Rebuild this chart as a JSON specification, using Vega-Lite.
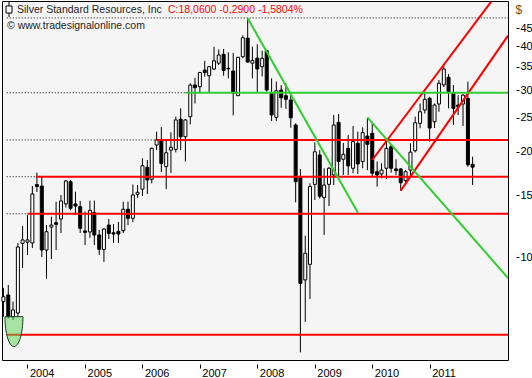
{
  "$schema": "https://vega.github.io/schema/vega-lite/v6.json",
  "width": 506,
  "height": 359,
  "autosize": {"type": "none"},
  "padding": {"left": 2, "top": 1, "right": 24, "bottom": 18},
  "background": "#ffffff",
  "config": {"view": {"fill": "#f5f5f5", "stroke": "#000000", "strokeWidth": 1}, "font": "Liberation Sans"},
  "datasets": {
    "candles": [
      {"date": "2003-08-01", "open": 7.46, "high": 8.16, "low": 6.75, "close": 7.70},
      {"date": "2003-09-01", "open": 7.79, "high": 8.32, "low": 6.68, "close": 6.75},
      {"date": "2003-10-01", "open": 6.75, "high": 7.46, "low": 6.61, "close": 7.06},
      {"date": "2003-11-01", "open": 6.92, "high": 10.97, "low": 6.74, "close": 10.68},
      {"date": "2003-12-01", "open": 10.94, "high": 12.26, "low": 9.30, "close": 11.19},
      {"date": "2004-01-01", "open": 11.03, "high": 13.18, "low": 10.13, "close": 11.19},
      {"date": "2004-02-01", "open": 10.97, "high": 15.95, "low": 10.61, "close": 15.14},
      {"date": "2004-03-01", "open": 16.11, "high": 17.42, "low": 15.34, "close": 15.90},
      {"date": "2004-04-01", "open": 15.95, "high": 16.93, "low": 10.00, "close": 10.47},
      {"date": "2004-05-01", "open": 10.47, "high": 12.34, "low": 8.66, "close": 11.81},
      {"date": "2004-06-01", "open": 12.18, "high": 13.04, "low": 9.87, "close": 12.34},
      {"date": "2004-07-01", "open": 12.53, "high": 14.39, "low": 10.47, "close": 12.40},
      {"date": "2004-08-01", "open": 12.84, "high": 15.04, "low": 11.71, "close": 14.46},
      {"date": "2004-09-01", "open": 14.18, "high": 16.60, "low": 13.84, "close": 16.49},
      {"date": "2004-10-01", "open": 16.41, "high": 16.60, "low": 13.60, "close": 13.78},
      {"date": "2004-11-01", "open": 14.18, "high": 15.37, "low": 13.18, "close": 13.99},
      {"date": "2004-12-01", "open": 13.93, "high": 14.46, "low": 11.71, "close": 12.08},
      {"date": "2005-01-01", "open": 11.87, "high": 13.50, "low": 10.82, "close": 11.76},
      {"date": "2005-02-01", "open": 11.79, "high": 14.49, "low": 11.34, "close": 13.59},
      {"date": "2005-03-01", "open": 13.39, "high": 14.49, "low": 10.82, "close": 11.56},
      {"date": "2005-04-01", "open": 11.56, "high": 11.95, "low": 10.13, "close": 10.52},
      {"date": "2005-05-01", "open": 10.51, "high": 12.10, "low": 9.68, "close": 12.02},
      {"date": "2005-06-01", "open": 12.34, "high": 12.84, "low": 11.26, "close": 11.68},
      {"date": "2005-07-01", "open": 11.73, "high": 12.42, "low": 10.98, "close": 11.63},
      {"date": "2005-08-01", "open": 11.84, "high": 12.60, "low": 10.97, "close": 11.63},
      {"date": "2005-09-01", "open": 11.89, "high": 14.39, "low": 11.71, "close": 13.69},
      {"date": "2005-10-01", "open": 13.69, "high": 14.39, "low": 12.34, "close": 12.90},
      {"date": "2005-11-01", "open": 12.90, "high": 16.11, "low": 12.58, "close": 15.04},
      {"date": "2005-12-01", "open": 15.11, "high": 16.06, "low": 14.75, "close": 15.31},
      {"date": "2006-01-01", "open": 15.63, "high": 19.15, "low": 14.94, "close": 18.23},
      {"date": "2006-02-01", "open": 18.04, "high": 18.93, "low": 15.14, "close": 16.60},
      {"date": "2006-03-01", "open": 16.68, "high": 20.55, "low": 16.24, "close": 20.44},
      {"date": "2006-04-01", "open": 20.89, "high": 22.81, "low": 20.20, "close": 21.60},
      {"date": "2006-05-01", "open": 21.60, "high": 23.50, "low": 17.50, "close": 18.50},
      {"date": "2006-06-01", "open": 18.13, "high": 21.60, "low": 15.63, "close": 19.85},
      {"date": "2006-07-01", "open": 20.20, "high": 22.72, "low": 17.38, "close": 20.58},
      {"date": "2006-08-01", "open": 20.30, "high": 25.17, "low": 19.90, "close": 24.64},
      {"date": "2006-09-01", "open": 24.76, "high": 26.60, "low": 20.20, "close": 22.06},
      {"date": "2006-10-01", "open": 22.06, "high": 24.80, "low": 18.74, "close": 24.64},
      {"date": "2006-11-01", "open": 25.17, "high": 31.36, "low": 23.94, "close": 31.00},
      {"date": "2006-12-01", "open": 31.00, "high": 32.53, "low": 27.46, "close": 30.46},
      {"date": "2007-01-01", "open": 30.66, "high": 33.80, "low": 29.37, "close": 33.67},
      {"date": "2007-02-01", "open": 34.20, "high": 36.35, "low": 32.75, "close": 33.67},
      {"date": "2007-03-01", "open": 32.96, "high": 35.10, "low": 29.56, "close": 34.97},
      {"date": "2007-04-01", "open": 34.44, "high": 39.89, "low": 34.20, "close": 36.35},
      {"date": "2007-05-01", "open": 35.80, "high": 39.20, "low": 35.36, "close": 37.77},
      {"date": "2007-06-01", "open": 37.94, "high": 39.30, "low": 32.96, "close": 34.10},
      {"date": "2007-07-01", "open": 34.60, "high": 38.45, "low": 32.40, "close": 34.50},
      {"date": "2007-08-01", "open": 34.00, "high": 38.30, "low": 25.40, "close": 29.37},
      {"date": "2007-09-01", "open": 28.90, "high": 37.30, "low": 28.90, "close": 37.20},
      {"date": "2007-10-01", "open": 37.35, "high": 43.00, "low": 37.00, "close": 42.30},
      {"date": "2007-11-01", "open": 42.20, "high": 48.10, "low": 36.00, "close": 36.05},
      {"date": "2007-12-01", "open": 35.80, "high": 39.89, "low": 32.40, "close": 36.46},
      {"date": "2008-01-01", "open": 37.00, "high": 40.53, "low": 29.60, "close": 34.44},
      {"date": "2008-02-01", "open": 34.97, "high": 38.86, "low": 32.80, "close": 36.95},
      {"date": "2008-03-01", "open": 38.86, "high": 39.00, "low": 29.70, "close": 30.00},
      {"date": "2008-04-01", "open": 29.37, "high": 32.40, "low": 24.47, "close": 25.46},
      {"date": "2008-05-01", "open": 25.07, "high": 31.70, "low": 24.47, "close": 29.85},
      {"date": "2008-06-01", "open": 30.00, "high": 31.00, "low": 26.70, "close": 28.50},
      {"date": "2008-07-01", "open": 28.90, "high": 31.36, "low": 26.50, "close": 28.23},
      {"date": "2008-08-01", "open": 28.10, "high": 29.00, "low": 23.40, "close": 25.00},
      {"date": "2008-09-01", "open": 23.83, "high": 24.10, "low": 14.33, "close": 16.41},
      {"date": "2008-10-01", "open": 16.96, "high": 17.85, "low": 5.34, "close": 8.41},
      {"date": "2008-11-01", "open": 8.60, "high": 11.50, "low": 6.53, "close": 10.25},
      {"date": "2008-12-01", "open": 9.53, "high": 16.24, "low": 7.59, "close": 15.90},
      {"date": "2009-01-01", "open": 16.13, "high": 21.27, "low": 14.55, "close": 19.98},
      {"date": "2009-02-01", "open": 19.57, "high": 20.20, "low": 14.70, "close": 14.91},
      {"date": "2009-03-01", "open": 14.78, "high": 17.93, "low": 11.56, "close": 16.06},
      {"date": "2009-04-01", "open": 16.13, "high": 18.10, "low": 13.98, "close": 17.93},
      {"date": "2009-05-01", "open": 17.15, "high": 25.46, "low": 16.06, "close": 23.83},
      {"date": "2009-06-01", "open": 24.25, "high": 25.60, "low": 17.04, "close": 18.74},
      {"date": "2009-07-01", "open": 19.02, "high": 21.18, "low": 17.15, "close": 19.66},
      {"date": "2009-08-01", "open": 20.44, "high": 22.30, "low": 17.15, "close": 18.21},
      {"date": "2009-09-01", "open": 17.93, "high": 23.67, "low": 17.35, "close": 21.36},
      {"date": "2009-10-01", "open": 21.13, "high": 22.81, "low": 17.27, "close": 18.45},
      {"date": "2009-11-01", "open": 18.74, "high": 23.48, "low": 17.93, "close": 22.66},
      {"date": "2009-12-01", "open": 22.16, "high": 24.92, "low": 17.72, "close": 20.99},
      {"date": "2010-01-01", "open": 22.57, "high": 24.10, "low": 16.93, "close": 17.35},
      {"date": "2010-02-01", "open": 17.53, "high": 18.74, "low": 15.88, "close": 17.15},
      {"date": "2010-03-01", "open": 17.27, "high": 18.53, "low": 16.79, "close": 17.72},
      {"date": "2010-04-01", "open": 17.93, "high": 21.36, "low": 16.71, "close": 20.44},
      {"date": "2010-05-01", "open": 20.66, "high": 20.89, "low": 17.42, "close": 17.93},
      {"date": "2010-06-01", "open": 17.85, "high": 19.02, "low": 17.15, "close": 17.65},
      {"date": "2010-07-01", "open": 17.85, "high": 17.95, "low": 15.47, "close": 16.30},
      {"date": "2010-08-01", "open": 16.53, "high": 17.72, "low": 16.30, "close": 17.53},
      {"date": "2010-09-01", "open": 17.72, "high": 21.13, "low": 16.96, "close": 19.94},
      {"date": "2010-10-01", "open": 20.12, "high": 25.17, "low": 19.90, "close": 24.19},
      {"date": "2010-11-01", "open": 24.10, "high": 27.46, "low": 23.33, "close": 26.00},
      {"date": "2010-12-01", "open": 26.30, "high": 29.37, "low": 25.70, "close": 28.23},
      {"date": "2011-01-01", "open": 28.40, "high": 28.70, "low": 21.36, "close": 23.36},
      {"date": "2011-02-01", "open": 24.35, "high": 27.46, "low": 23.36, "close": 27.18},
      {"date": "2011-03-01", "open": 27.36, "high": 32.03, "low": 26.00, "close": 31.36},
      {"date": "2011-04-01", "open": 31.00, "high": 35.36, "low": 30.60, "close": 34.44},
      {"date": "2011-05-01", "open": 32.62, "high": 33.30, "low": 26.60, "close": 29.66},
      {"date": "2011-06-01", "open": 29.37, "high": 31.00, "low": 23.83, "close": 26.60},
      {"date": "2011-07-01", "open": 27.18, "high": 29.00, "low": 25.46, "close": 26.88},
      {"date": "2011-08-01", "open": 27.36, "high": 29.20, "low": 23.67, "close": 29.00},
      {"date": "2011-09-01", "open": 28.40, "high": 31.70, "low": 18.10, "close": 18.35},
      {"date": "2011-10-01", "open": 18.40, "high": 19.35, "low": 16.06, "close": 18.06}
    ],
    "redLines": [
      {"start": "2006-04-01", "end": "2012-05-13", "from": 21.6, "to": 21.6},
      {"start": "2004-02-26", "end": "2012-05-13", "from": 16.96, "to": 16.96},
      {"start": "2004-01-01", "end": "2012-05-13", "from": 13.29, "to": 13.29},
      {"start": "2003-08-22", "end": "2012-05-13", "from": 6.0, "to": 6.0},
      {"start": "2010-01-01", "end": "2012-01-26", "from": 18.93, "to": 53.6},
      {"start": "2010-07-01", "end": "2012-05-13", "from": 15.47, "to": 42.9}
    ],
    "greenLines": [
      {"start": "2006-10-01", "end": "2012-05-13", "from": 29.47, "to": 29.47},
      {"start": "2007-11-01", "end": "2009-10-02", "from": 48.1, "to": 13.39},
      {"start": "2009-12-01", "end": "2012-05-13", "from": 25.07, "to": 8.71}
    ],
    "dottedLines": [
      {"start": "2003-08-22", "end": "2006-04-01", "from": 21.6, "to": 21.6},
      {"start": "2003-08-22", "end": "2004-02-26", "from": 16.96, "to": 16.96},
      {"start": "2003-08-22", "end": "2004-01-01", "from": 13.29, "to": 13.29},
      {"start": "2003-08-22", "end": "2006-10-01", "from": 29.47, "to": 29.47},
      {"start": "2003-08-22", "end": "2012-05-13", "from": 48.2, "to": 48.2}
    ],
    "marker": [
      {"date": "2003-10-07", "value": 6.12}
    ]
  },
  "layer": [
    {
      "data": {"name": "candles"},
      "mark": {"type": "rule", "stroke": "#000000", "strokeWidth": 1},
      "encoding": {
        "x": {"field": "date", "type": "temporal",
          "scale": {"type": "utc", "padding": 0, "domain": [{"year": 2003, "month": 7, "date": 23, "utc": true}, {"year": 2012, "month": 5, "date": 13, "utc": true}]},
          "axis": {"orient": "bottom", "title": null, "values": [{"year": 2004, "month": 1, "date": 1, "utc": true}, {"year": 2005, "month": 1, "date": 1, "utc": true}, {"year": 2006, "month": 1, "date": 1, "utc": true}, {"year": 2007, "month": 1, "date": 1, "utc": true}, {"year": 2008, "month": 1, "date": 1, "utc": true}, {"year": 2009, "month": 1, "date": 1, "utc": true}, {"year": 2010, "month": 1, "date": 1, "utc": true}, {"year": 2011, "month": 1, "date": 1, "utc": true}], "format": "%Y", "formatType": "utc", "domain": false, "grid": false, "tickSize": 4, "tickColor": "#000000", "offset": 4, "labelAlign": "left", "labelBaseline": "alphabetic", "labelPadding": 8, "labelOffset": 2, "labelFont": "Liberation Sans", "labelFontSize": 11, "labelColor": "#000000", "labelOverlap": false, "labelFlush": false, "labelBound": false}},
        "y": {"field": "low", "type": "quantitative",
          "scale": {"type": "log", "padding": 0, "domain": [5.079, 53.88], "nice": false},
          "axis": {"orient": "right", "values": [10, 15, 20, 25, 30, 35, 40, 45], "format": "d", "title": "$", "titleAngle": 0, "titleAlign": "left", "titleBaseline": "middle", "titleX": -1, "titleY": 8, "titleFont": "Liberation Sans", "titleFontSize": 12, "titleFontWeight": "normal", "titleColor": "#7a4a10", "domain": false, "grid": false, "tickSize": 3, "tickColor": "#000000", "offset": 8, "labelPadding": 1, "labelFont": "Liberation Sans", "labelFontSize": 11, "labelColor": "#000000", "labelAlign": "left", "labelBaseline": "middle", "labelOverlap": false, "labelBound": false, "labelFlush": false}},
        "y2": {"field": "high"}
      }
    },
    {
      "data": {"name": "candles"},
      "mark": {"type": "bar", "size": 3, "stroke": "#000000", "strokeWidth": 1, "orient": "vertical"},
      "encoding": {
        "x": {"field": "date", "type": "temporal",
          "scale": {"type": "utc", "padding": 0, "domain": [{"year": 2003, "month": 7, "date": 23, "utc": true}, {"year": 2012, "month": 5, "date": 13, "utc": true}]},
          "axis": {"orient": "bottom", "title": null, "values": [{"year": 2004, "month": 1, "date": 1, "utc": true}, {"year": 2005, "month": 1, "date": 1, "utc": true}, {"year": 2006, "month": 1, "date": 1, "utc": true}, {"year": 2007, "month": 1, "date": 1, "utc": true}, {"year": 2008, "month": 1, "date": 1, "utc": true}, {"year": 2009, "month": 1, "date": 1, "utc": true}, {"year": 2010, "month": 1, "date": 1, "utc": true}, {"year": 2011, "month": 1, "date": 1, "utc": true}], "format": "%Y", "formatType": "utc", "domain": false, "grid": false, "tickSize": 4, "tickColor": "#000000", "offset": 4, "labelAlign": "left", "labelBaseline": "alphabetic", "labelPadding": 8, "labelOffset": 2, "labelFont": "Liberation Sans", "labelFontSize": 11, "labelColor": "#000000", "labelOverlap": false, "labelFlush": false, "labelBound": false}},
        "y": {"field": "open", "type": "quantitative",
          "scale": {"type": "log", "padding": 0, "domain": [5.079, 53.88], "nice": false},
          "axis": {"orient": "right", "values": [10, 15, 20, 25, 30, 35, 40, 45], "format": "d", "title": "$", "titleAngle": 0, "titleAlign": "left", "titleBaseline": "middle", "titleX": -1, "titleY": 8, "titleFont": "Liberation Sans", "titleFontSize": 12, "titleFontWeight": "normal", "titleColor": "#7a4a10", "domain": false, "grid": false, "tickSize": 3, "tickColor": "#000000", "offset": 8, "labelPadding": 1, "labelFont": "Liberation Sans", "labelFontSize": 11, "labelColor": "#000000", "labelAlign": "left", "labelBaseline": "middle", "labelOverlap": false, "labelBound": false, "labelFlush": false}},
        "y2": {"field": "close"},
        "fill": {"condition": {"test": "datum.close >= datum.open", "value": "#ffffff"}, "value": "#000000"}
      }
    },
    {
      "data": {"name": "dottedLines"},
      "mark": {"type": "rule", "stroke": "#000000", "strokeWidth": 1, "strokeDash": [1, 2]},
      "encoding": {
        "x": {"field": "start", "type": "temporal",
          "scale": {"type": "utc", "padding": 0, "domain": [{"year": 2003, "month": 7, "date": 23, "utc": true}, {"year": 2012, "month": 5, "date": 13, "utc": true}]},
          "axis": {"orient": "bottom", "title": null, "values": [{"year": 2004, "month": 1, "date": 1, "utc": true}, {"year": 2005, "month": 1, "date": 1, "utc": true}, {"year": 2006, "month": 1, "date": 1, "utc": true}, {"year": 2007, "month": 1, "date": 1, "utc": true}, {"year": 2008, "month": 1, "date": 1, "utc": true}, {"year": 2009, "month": 1, "date": 1, "utc": true}, {"year": 2010, "month": 1, "date": 1, "utc": true}, {"year": 2011, "month": 1, "date": 1, "utc": true}], "format": "%Y", "formatType": "utc", "domain": false, "grid": false, "tickSize": 4, "tickColor": "#000000", "offset": 4, "labelAlign": "left", "labelBaseline": "alphabetic", "labelPadding": 8, "labelOffset": 2, "labelFont": "Liberation Sans", "labelFontSize": 11, "labelColor": "#000000", "labelOverlap": false, "labelFlush": false, "labelBound": false}},
        "x2": {"field": "end"},
        "y": {"field": "from", "type": "quantitative",
          "scale": {"type": "log", "padding": 0, "domain": [5.079, 53.88], "nice": false},
          "axis": {"orient": "right", "values": [10, 15, 20, 25, 30, 35, 40, 45], "format": "d", "title": "$", "titleAngle": 0, "titleAlign": "left", "titleBaseline": "middle", "titleX": -1, "titleY": 8, "titleFont": "Liberation Sans", "titleFontSize": 12, "titleFontWeight": "normal", "titleColor": "#7a4a10", "domain": false, "grid": false, "tickSize": 3, "tickColor": "#000000", "offset": 8, "labelPadding": 1, "labelFont": "Liberation Sans", "labelFontSize": 11, "labelColor": "#000000", "labelAlign": "left", "labelBaseline": "middle", "labelOverlap": false, "labelBound": false, "labelFlush": false}},
        "y2": {"field": "to"}
      }
    },
    {
      "data": {"name": "redLines"},
      "mark": {"type": "rule", "stroke": "#ff0000", "strokeWidth": 2, "clip": true},
      "encoding": {
        "x": {"field": "start", "type": "temporal",
          "scale": {"type": "utc", "padding": 0, "domain": [{"year": 2003, "month": 7, "date": 23, "utc": true}, {"year": 2012, "month": 5, "date": 13, "utc": true}]},
          "axis": {"orient": "bottom", "title": null, "values": [{"year": 2004, "month": 1, "date": 1, "utc": true}, {"year": 2005, "month": 1, "date": 1, "utc": true}, {"year": 2006, "month": 1, "date": 1, "utc": true}, {"year": 2007, "month": 1, "date": 1, "utc": true}, {"year": 2008, "month": 1, "date": 1, "utc": true}, {"year": 2009, "month": 1, "date": 1, "utc": true}, {"year": 2010, "month": 1, "date": 1, "utc": true}, {"year": 2011, "month": 1, "date": 1, "utc": true}], "format": "%Y", "formatType": "utc", "domain": false, "grid": false, "tickSize": 4, "tickColor": "#000000", "offset": 4, "labelAlign": "left", "labelBaseline": "alphabetic", "labelPadding": 8, "labelOffset": 2, "labelFont": "Liberation Sans", "labelFontSize": 11, "labelColor": "#000000", "labelOverlap": false, "labelFlush": false, "labelBound": false}},
        "x2": {"field": "end"},
        "y": {"field": "from", "type": "quantitative",
          "scale": {"type": "log", "padding": 0, "domain": [5.079, 53.88], "nice": false},
          "axis": {"orient": "right", "values": [10, 15, 20, 25, 30, 35, 40, 45], "format": "d", "title": "$", "titleAngle": 0, "titleAlign": "left", "titleBaseline": "middle", "titleX": -1, "titleY": 8, "titleFont": "Liberation Sans", "titleFontSize": 12, "titleFontWeight": "normal", "titleColor": "#7a4a10", "domain": false, "grid": false, "tickSize": 3, "tickColor": "#000000", "offset": 8, "labelPadding": 1, "labelFont": "Liberation Sans", "labelFontSize": 11, "labelColor": "#000000", "labelAlign": "left", "labelBaseline": "middle", "labelOverlap": false, "labelBound": false, "labelFlush": false}},
        "y2": {"field": "to"}
      }
    },
    {
      "data": {"name": "greenLines"},
      "mark": {"type": "rule", "stroke": "#32cd32", "strokeWidth": 2, "clip": true},
      "encoding": {
        "x": {"field": "start", "type": "temporal",
          "scale": {"type": "utc", "padding": 0, "domain": [{"year": 2003, "month": 7, "date": 23, "utc": true}, {"year": 2012, "month": 5, "date": 13, "utc": true}]},
          "axis": {"orient": "bottom", "title": null, "values": [{"year": 2004, "month": 1, "date": 1, "utc": true}, {"year": 2005, "month": 1, "date": 1, "utc": true}, {"year": 2006, "month": 1, "date": 1, "utc": true}, {"year": 2007, "month": 1, "date": 1, "utc": true}, {"year": 2008, "month": 1, "date": 1, "utc": true}, {"year": 2009, "month": 1, "date": 1, "utc": true}, {"year": 2010, "month": 1, "date": 1, "utc": true}, {"year": 2011, "month": 1, "date": 1, "utc": true}], "format": "%Y", "formatType": "utc", "domain": false, "grid": false, "tickSize": 4, "tickColor": "#000000", "offset": 4, "labelAlign": "left", "labelBaseline": "alphabetic", "labelPadding": 8, "labelOffset": 2, "labelFont": "Liberation Sans", "labelFontSize": 11, "labelColor": "#000000", "labelOverlap": false, "labelFlush": false, "labelBound": false}},
        "x2": {"field": "end"},
        "y": {"field": "from", "type": "quantitative",
          "scale": {"type": "log", "padding": 0, "domain": [5.079, 53.88], "nice": false},
          "axis": {"orient": "right", "values": [10, 15, 20, 25, 30, 35, 40, 45], "format": "d", "title": "$", "titleAngle": 0, "titleAlign": "left", "titleBaseline": "middle", "titleX": -1, "titleY": 8, "titleFont": "Liberation Sans", "titleFontSize": 12, "titleFontWeight": "normal", "titleColor": "#7a4a10", "domain": false, "grid": false, "tickSize": 3, "tickColor": "#000000", "offset": 8, "labelPadding": 1, "labelFont": "Liberation Sans", "labelFontSize": 11, "labelColor": "#000000", "labelAlign": "left", "labelBaseline": "middle", "labelOverlap": false, "labelBound": false, "labelFlush": false}},
        "y2": {"field": "to"}
      }
    },
    {
      "data": {"name": "marker"},
      "mark": {"type": "point", "shape": "M-0.6,-1L0.6,-1C0.6,0.105,0.331,1,0,1C-0.331,1,-0.6,0.105,-0.6,-1Z", "size": 900, "filled": true, "fill": "#5ad250", "fillOpacity": 0.5, "stroke": "#1e3c1e", "strokeWidth": 1, "strokeOpacity": 1, "opacity": 1},
      "encoding": {
        "x": {"field": "date", "type": "temporal",
          "scale": {"type": "utc", "padding": 0, "domain": [{"year": 2003, "month": 7, "date": 23, "utc": true}, {"year": 2012, "month": 5, "date": 13, "utc": true}]},
          "axis": {"orient": "bottom", "title": null, "values": [{"year": 2004, "month": 1, "date": 1, "utc": true}, {"year": 2005, "month": 1, "date": 1, "utc": true}, {"year": 2006, "month": 1, "date": 1, "utc": true}, {"year": 2007, "month": 1, "date": 1, "utc": true}, {"year": 2008, "month": 1, "date": 1, "utc": true}, {"year": 2009, "month": 1, "date": 1, "utc": true}, {"year": 2010, "month": 1, "date": 1, "utc": true}, {"year": 2011, "month": 1, "date": 1, "utc": true}], "format": "%Y", "formatType": "utc", "domain": false, "grid": false, "tickSize": 4, "tickColor": "#000000", "offset": 4, "labelAlign": "left", "labelBaseline": "alphabetic", "labelPadding": 8, "labelOffset": 2, "labelFont": "Liberation Sans", "labelFontSize": 11, "labelColor": "#000000", "labelOverlap": false, "labelFlush": false, "labelBound": false}},
        "y": {"field": "value", "type": "quantitative",
          "scale": {"type": "log", "padding": 0, "domain": [5.079, 53.88], "nice": false},
          "axis": {"orient": "right", "values": [10, 15, 20, 25, 30, 35, 40, 45], "format": "d", "title": "$", "titleAngle": 0, "titleAlign": "left", "titleBaseline": "middle", "titleX": -1, "titleY": 8, "titleFont": "Liberation Sans", "titleFontSize": 12, "titleFontWeight": "normal", "titleColor": "#7a4a10", "domain": false, "grid": false, "tickSize": 3, "tickColor": "#000000", "offset": 8, "labelPadding": 1, "labelFont": "Liberation Sans", "labelFontSize": 11, "labelColor": "#000000", "labelAlign": "left", "labelBaseline": "middle", "labelOverlap": false, "labelBound": false, "labelFlush": false}}
      }
    },
    {
      "data": {"values": [{"label": "Silver Standard Resources, Inc", "part": "name"}, {"label": "C:18,0600 -0,2900 -1,5804%", "part": "quote"}, {"label": "© www.tradesignalonline.com", "part": "source"}]},
      "transform": [{"filter": "datum.part == 'name'"}],
      "mark": {"type": "text", "align": "left", "baseline": "middle", "dx": 15, "dy": 9, "font": "Liberation Sans", "fontSize": 10.5, "fill": "#222222"},
      "encoding": {
        "x": {"datum": {"year": 2003, "month": 7, "date": 23, "utc": true}, "type": "temporal",
          "scale": {"type": "utc", "padding": 0, "domain": [{"year": 2003, "month": 7, "date": 23, "utc": true}, {"year": 2012, "month": 5, "date": 13, "utc": true}]},
          "axis": {"orient": "bottom", "title": null, "values": [{"year": 2004, "month": 1, "date": 1, "utc": true}, {"year": 2005, "month": 1, "date": 1, "utc": true}, {"year": 2006, "month": 1, "date": 1, "utc": true}, {"year": 2007, "month": 1, "date": 1, "utc": true}, {"year": 2008, "month": 1, "date": 1, "utc": true}, {"year": 2009, "month": 1, "date": 1, "utc": true}, {"year": 2010, "month": 1, "date": 1, "utc": true}, {"year": 2011, "month": 1, "date": 1, "utc": true}], "format": "%Y", "formatType": "utc", "domain": false, "grid": false, "tickSize": 4, "tickColor": "#000000", "offset": 4, "labelAlign": "left", "labelBaseline": "alphabetic", "labelPadding": 8, "labelOffset": 2, "labelFont": "Liberation Sans", "labelFontSize": 11, "labelColor": "#000000", "labelOverlap": false, "labelFlush": false, "labelBound": false}},
        "y": {"datum": 53.88, "type": "quantitative",
          "scale": {"type": "log", "padding": 0, "domain": [5.079, 53.88], "nice": false},
          "axis": {"orient": "right", "values": [10, 15, 20, 25, 30, 35, 40, 45], "format": "d", "title": "$", "titleAngle": 0, "titleAlign": "left", "titleBaseline": "middle", "titleX": -1, "titleY": 8, "titleFont": "Liberation Sans", "titleFontSize": 12, "titleFontWeight": "normal", "titleColor": "#7a4a10", "domain": false, "grid": false, "tickSize": 3, "tickColor": "#000000", "offset": 8, "labelPadding": 1, "labelFont": "Liberation Sans", "labelFontSize": 11, "labelColor": "#000000", "labelAlign": "left", "labelBaseline": "middle", "labelOverlap": false, "labelBound": false, "labelFlush": false}},
        "text": {"field": "label"}
      }
    },
    {
      "data": {"values": [{"label": "C:18,0600 -0,2900 -1,5804%"}]},
      "mark": {"type": "text", "align": "left", "baseline": "middle", "dx": 166, "dy": 9, "font": "Liberation Sans", "fontSize": 10.5, "fill": "#ff0000"},
      "encoding": {
        "x": {"datum": {"year": 2003, "month": 7, "date": 23, "utc": true}, "type": "temporal",
          "scale": {"type": "utc", "padding": 0, "domain": [{"year": 2003, "month": 7, "date": 23, "utc": true}, {"year": 2012, "month": 5, "date": 13, "utc": true}]},
          "axis": {"orient": "bottom", "title": null, "values": [{"year": 2004, "month": 1, "date": 1, "utc": true}, {"year": 2005, "month": 1, "date": 1, "utc": true}, {"year": 2006, "month": 1, "date": 1, "utc": true}, {"year": 2007, "month": 1, "date": 1, "utc": true}, {"year": 2008, "month": 1, "date": 1, "utc": true}, {"year": 2009, "month": 1, "date": 1, "utc": true}, {"year": 2010, "month": 1, "date": 1, "utc": true}, {"year": 2011, "month": 1, "date": 1, "utc": true}], "format": "%Y", "formatType": "utc", "domain": false, "grid": false, "tickSize": 4, "tickColor": "#000000", "offset": 4, "labelAlign": "left", "labelBaseline": "alphabetic", "labelPadding": 8, "labelOffset": 2, "labelFont": "Liberation Sans", "labelFontSize": 11, "labelColor": "#000000", "labelOverlap": false, "labelFlush": false, "labelBound": false}},
        "y": {"datum": 53.88, "type": "quantitative",
          "scale": {"type": "log", "padding": 0, "domain": [5.079, 53.88], "nice": false},
          "axis": {"orient": "right", "values": [10, 15, 20, 25, 30, 35, 40, 45], "format": "d", "title": "$", "titleAngle": 0, "titleAlign": "left", "titleBaseline": "middle", "titleX": -1, "titleY": 8, "titleFont": "Liberation Sans", "titleFontSize": 12, "titleFontWeight": "normal", "titleColor": "#7a4a10", "domain": false, "grid": false, "tickSize": 3, "tickColor": "#000000", "offset": 8, "labelPadding": 1, "labelFont": "Liberation Sans", "labelFontSize": 11, "labelColor": "#000000", "labelAlign": "left", "labelBaseline": "middle", "labelOverlap": false, "labelBound": false, "labelFlush": false}},
        "text": {"field": "label"}
      }
    },
    {
      "data": {"values": [{"label": "© www.tradesignalonline.com"}]},
      "mark": {"type": "text", "align": "left", "baseline": "middle", "dx": 5, "dy": 25, "font": "Liberation Sans", "fontSize": 10.5, "fill": "#222222"},
      "encoding": {
        "x": {"datum": {"year": 2003, "month": 7, "date": 23, "utc": true}, "type": "temporal",
          "scale": {"type": "utc", "padding": 0, "domain": [{"year": 2003, "month": 7, "date": 23, "utc": true}, {"year": 2012, "month": 5, "date": 13, "utc": true}]},
          "axis": {"orient": "bottom", "title": null, "values": [{"year": 2004, "month": 1, "date": 1, "utc": true}, {"year": 2005, "month": 1, "date": 1, "utc": true}, {"year": 2006, "month": 1, "date": 1, "utc": true}, {"year": 2007, "month": 1, "date": 1, "utc": true}, {"year": 2008, "month": 1, "date": 1, "utc": true}, {"year": 2009, "month": 1, "date": 1, "utc": true}, {"year": 2010, "month": 1, "date": 1, "utc": true}, {"year": 2011, "month": 1, "date": 1, "utc": true}], "format": "%Y", "formatType": "utc", "domain": false, "grid": false, "tickSize": 4, "tickColor": "#000000", "offset": 4, "labelAlign": "left", "labelBaseline": "alphabetic", "labelPadding": 8, "labelOffset": 2, "labelFont": "Liberation Sans", "labelFontSize": 11, "labelColor": "#000000", "labelOverlap": false, "labelFlush": false, "labelBound": false}},
        "y": {"datum": 53.88, "type": "quantitative",
          "scale": {"type": "log", "padding": 0, "domain": [5.079, 53.88], "nice": false},
          "axis": {"orient": "right", "values": [10, 15, 20, 25, 30, 35, 40, 45], "format": "d", "title": "$", "titleAngle": 0, "titleAlign": "left", "titleBaseline": "middle", "titleX": -1, "titleY": 8, "titleFont": "Liberation Sans", "titleFontSize": 12, "titleFontWeight": "normal", "titleColor": "#7a4a10", "domain": false, "grid": false, "tickSize": 3, "tickColor": "#000000", "offset": 8, "labelPadding": 1, "labelFont": "Liberation Sans", "labelFontSize": 11, "labelColor": "#000000", "labelAlign": "left", "labelBaseline": "middle", "labelOverlap": false, "labelBound": false, "labelFlush": false}},
        "text": {"field": "label"}
      }
    },
    {
      "data": {"values": [{"label": "legend icon"}]},
      "mark": {"type": "point", "shape": "M0,-1L0,-0.47M-0.4,-0.47L0.4,-0.47L0.4,0.47L-0.4,0.47ZM0,0.47L0,1", "size": 225, "filled": false, "fill": "#ffffff", "stroke": "#000000", "strokeWidth": 1, "opacity": 1, "xOffset": 7, "yOffset": 8.5},
      "encoding": {
        "x": {"datum": {"year": 2003, "month": 7, "date": 23, "utc": true}, "type": "temporal",
          "scale": {"type": "utc", "padding": 0, "domain": [{"year": 2003, "month": 7, "date": 23, "utc": true}, {"year": 2012, "month": 5, "date": 13, "utc": true}]},
          "axis": {"orient": "bottom", "title": null, "values": [{"year": 2004, "month": 1, "date": 1, "utc": true}, {"year": 2005, "month": 1, "date": 1, "utc": true}, {"year": 2006, "month": 1, "date": 1, "utc": true}, {"year": 2007, "month": 1, "date": 1, "utc": true}, {"year": 2008, "month": 1, "date": 1, "utc": true}, {"year": 2009, "month": 1, "date": 1, "utc": true}, {"year": 2010, "month": 1, "date": 1, "utc": true}, {"year": 2011, "month": 1, "date": 1, "utc": true}], "format": "%Y", "formatType": "utc", "domain": false, "grid": false, "tickSize": 4, "tickColor": "#000000", "offset": 4, "labelAlign": "left", "labelBaseline": "alphabetic", "labelPadding": 8, "labelOffset": 2, "labelFont": "Liberation Sans", "labelFontSize": 11, "labelColor": "#000000", "labelOverlap": false, "labelFlush": false, "labelBound": false}},
        "y": {"datum": 53.88, "type": "quantitative",
          "scale": {"type": "log", "padding": 0, "domain": [5.079, 53.88], "nice": false},
          "axis": {"orient": "right", "values": [10, 15, 20, 25, 30, 35, 40, 45], "format": "d", "title": "$", "titleAngle": 0, "titleAlign": "left", "titleBaseline": "middle", "titleX": -1, "titleY": 8, "titleFont": "Liberation Sans", "titleFontSize": 12, "titleFontWeight": "normal", "titleColor": "#7a4a10", "domain": false, "grid": false, "tickSize": 3, "tickColor": "#000000", "offset": 8, "labelPadding": 1, "labelFont": "Liberation Sans", "labelFontSize": 11, "labelColor": "#000000", "labelAlign": "left", "labelBaseline": "middle", "labelOverlap": false, "labelBound": false, "labelFlush": false}}
      }
    }
  ]
}
